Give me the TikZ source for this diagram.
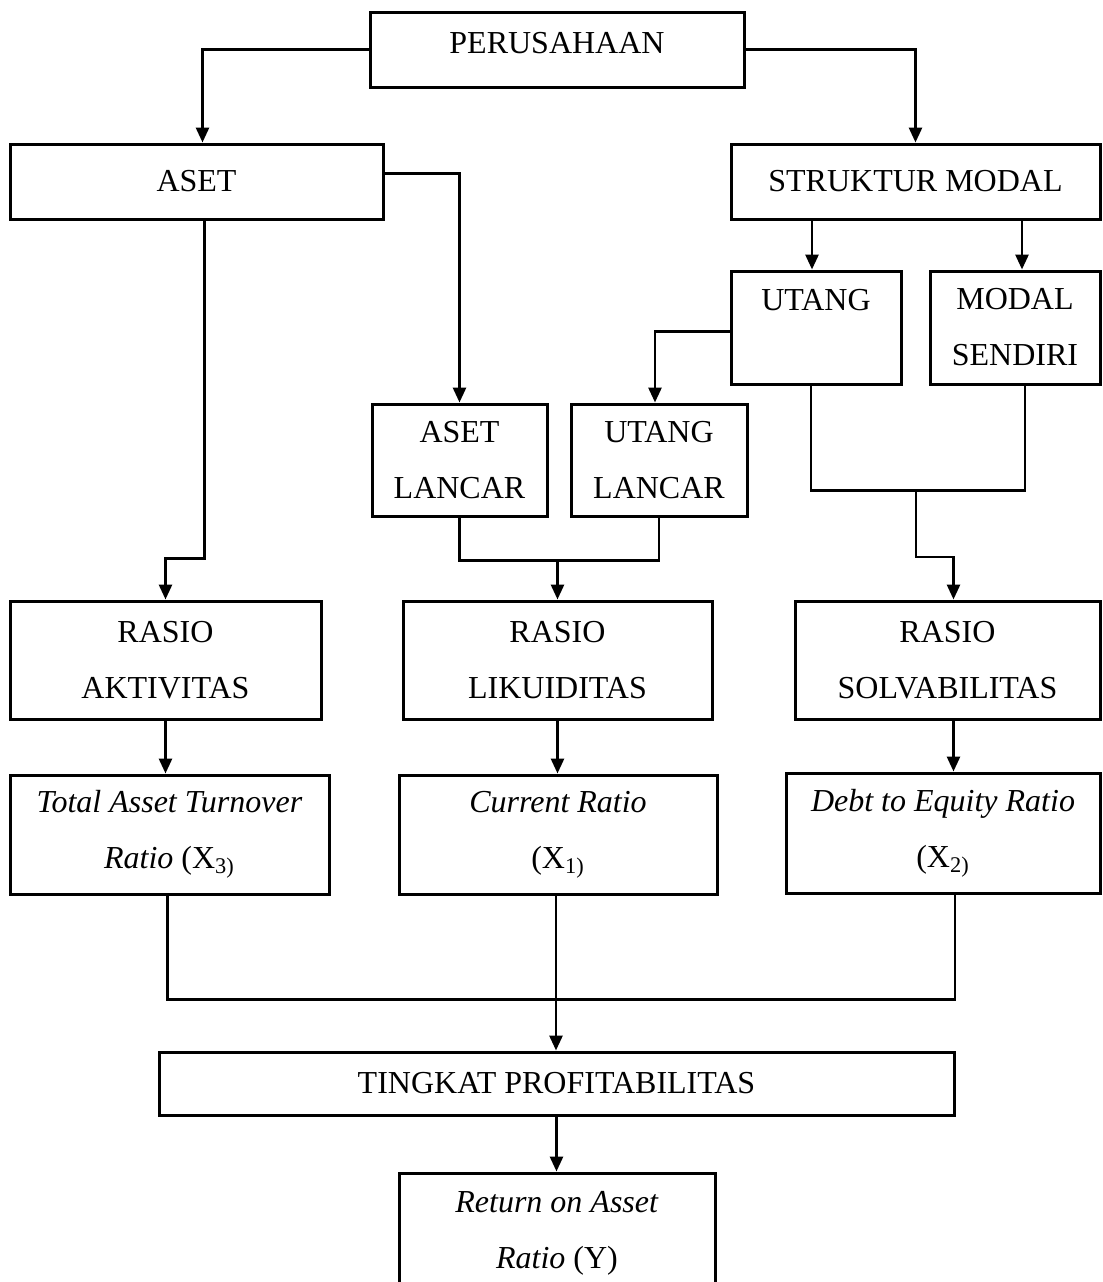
\documentclass[tikz,border=0pt]{standalone}
\usepackage{fontspec}
\setmainfont{Liberation Serif}
\usepackage{tikz}
\usetikzlibrary{arrows.meta}

\begin{document}
\begin{tikzpicture}[x=0.5pt,y=-0.5pt,
    every node/.style={font=\fontsize{16}{28}\selectfont},
    kotak/.style={draw,line width=1.5pt,align=center,inner sep=0pt},
    garis/.style={line width=1.4pt},
    panah/.style={line width=1.4pt,-{Triangle[length=7.5pt,width=6.5pt]}}]
        \useasboundingbox (0,0) rectangle (1103,1282);
        \clip (0,0) rectangle (1103,1282);
        % kotak-kotak
        \node[kotak,minimum width=187pt,minimum height=37.5pt,text height=11pt,text depth=7.4pt] (perusahaan) at (557,49.5) {PERUSAHAAN};
        \node[kotak,minimum width=186.5pt,minimum height=37.5pt] (aset) at (196.5,181.5) {ASET};
        \node[kotak,minimum width=184.5pt,minimum height=37.5pt] (struktur) at (915.5,181.5) {STRUKTUR MODAL};
        \node[kotak,minimum width=85pt,minimum height=56.5pt] (utang) at (816,327.5) {UTANG\\\mbox{}};
        \node[kotak,minimum width=85pt,minimum height=56.5pt] (modal) at (1015,327.5) {MODAL\\SENDIRI};
        \node[kotak,minimum width=87.5pt,minimum height=56pt] (asetlancar) at (459.5,460) {ASET\\LANCAR};
        \node[kotak,minimum width=88pt,minimum height=56pt] (utanglancar) at (659,460) {UTANG\\LANCAR};
        \node[kotak,minimum width=155.5pt,minimum height=59pt] (rAktiv) at (165.5,660) {RASIO\\AKTIVITAS};
        \node[kotak,minimum width=154.5pt,minimum height=59pt] (rLikuid) at (557.5,660) {RASIO\\LIKUIDITAS};
        \node[kotak,minimum width=152.5pt,minimum height=59pt] (rSolv) at (947.5,660) {RASIO\\SOLVABILITAS};
        \node[kotak,minimum width=159.5pt,minimum height=59.5pt] (tato) at (169.5,834.5) {\textit{Total Asset Turnover}\\\textit{Ratio} (X\textsubscript{3)}};
        \node[kotak,minimum width=159pt,minimum height=59.5pt] (cr) at (558,834.5) {\textit{Current Ratio}\\(X\textsubscript{1)}};
        \node[kotak,minimum width=157pt,minimum height=60pt] (der) at (943,833) {\textit{Debt to Equity Ratio}\\(X\textsubscript{2)}};
        \node[kotak,minimum width=397.5pt,minimum height=31.5pt] (tingkat) at (556.5,1083.5) {TINGKAT PROFITABILITAS};
        \node[kotak,minimum width=158pt,minimum height=60pt] (roa) at (557,1233) {\textit{Return on Asset}\\\textit{Ratio} (Y)};
        % titik temu
        \coordinate (solvJoin) at (916,489);
        \coordinate (likJoin) at (557.5,559);
        % garis dan panah
        \draw[panah] (perusahaan.west) -| ([xshift=3pt]aset.north);
        \draw[panah] (perusahaan.east) -| (struktur.north);
        \draw[panah] ([yshift=4pt]aset.east) -| (asetlancar.north);
        \draw[panah] ([xshift=4pt]aset.south) -- ++(0,338) -| (rAktiv.north);
        \draw[panah] ([xshift=-2pt]utang.north |- struktur.south) -- ([xshift=-2pt]utang.north);
        \draw[panah] ([xshift=3.5pt]modal.north |- struktur.south) -- ([xshift=3.5pt]modal.north);
        \draw[panah] ([yshift=-2pt]utang.west) -| ([xshift=-2pt]utanglancar.north);
        \draw[garis] ([xshift=-2.5pt]utang.south) -- ++(0,105) -| ([xshift=5pt]modal.south);
        \draw[panah] (solvJoin) -- ++(0,68) -| ([xshift=3pt]rSolv.north);
        \draw[garis] (asetlancar.south) -- ++(0,43) -| (utanglancar.south);
        \draw[panah] (likJoin) -- (rLikuid.north);
        \draw[panah] (rAktiv.south) -- (rAktiv.south |- tato.north);
        \draw[panah] (rLikuid.south) -- (rLikuid.south |- cr.north);
        \draw[panah] ([xshift=3pt]rSolv.south) -- ([xshift=3pt]rSolv.south |- der.north);
        \draw[garis] ([xshift=-1pt]tato.south) -- ++(0,104) -| ([xshift=6pt]der.south);
        \draw[panah] ([xshift=-1pt]cr.south) -- ([xshift=-1pt]cr.south |- tingkat.north);
        \draw[panah] (tingkat.south) -- (tingkat.south |- roa.north);
\end{tikzpicture}
\end{document}
